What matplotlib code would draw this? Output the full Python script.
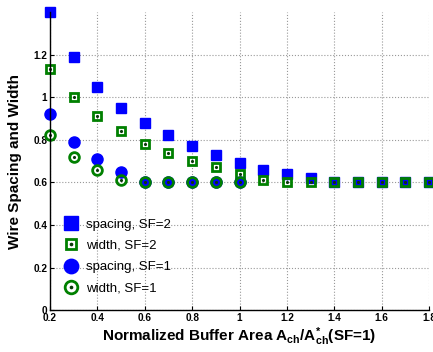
import numpy as np
import matplotlib
matplotlib.use('Agg')
import matplotlib.pyplot as plt

plt.rcParams['font.family'] = 'Liberation Sans'
plt.rcParams['mathtext.fontset'] = 'custom'
plt.rcParams['mathtext.bf'] = 'Liberation Sans:bold'
plt.rcParams['mathtext.rm'] = 'Liberation Sans:bold'
plt.rcParams['mathtext.default'] = 'bf'

# normalized buffer area
area = [0.2, 0.3, 0.4, 0.5, 0.6, 0.7, 0.8, 0.9, 1.0, 1.1, 1.2, 1.3, 1.4, 1.5, 1.6, 1.7, 1.8]
area_sf1 = [0.2, 0.3, 0.4, 0.5, 0.6, 0.7, 0.8, 0.9, 1.0]

spacing_sf2 = [1.40, 1.19, 1.05, 0.95, 0.88, 0.82, 0.77, 0.73, 0.69, 0.66, 0.64, 0.62,
               0.60, 0.60, 0.60, 0.60, 0.60]
width_sf2 = [1.13, 1.00, 0.91, 0.84, 0.78, 0.74, 0.70, 0.67, 0.64, 0.61, 0.60, 0.60,
             0.60, 0.60, 0.60, 0.60, 0.60]
spacing_sf1 = [0.92, 0.79, 0.71, 0.65, 0.60, 0.60, 0.60, 0.60, 0.60]
width_sf1 = [0.82, 0.72, 0.66, 0.61, 0.60, 0.60, 0.60, 0.60, 0.60]

labels = ['spacing, SF=2', 'width, SF=2', 'spacing, SF=1', 'width, SF=1']

blue = '#0000ff'
green = '#008000'
dot = '#0a3a0a'

fig = plt.figure(figsize=(4.33, 3.52), dpi=100)
ax = fig.add_axes([0.1155, 0.119, 0.8755, 0.847])

h1, = ax.plot(area, spacing_sf2, 's', color=blue, ms=7.5, mec=blue, ls='none', clip_on=False)
h2a, = ax.plot(area, width_sf2, 's', mfc='none', mec=green, ms=6, mew=2, ls='none', clip_on=False)
h2b, = ax.plot(area, width_sf2, '.', color=dot, ms=2.5, ls='none', clip_on=False)
h3, = ax.plot(area_sf1, spacing_sf1, 'o', color=blue, ms=8, mec=blue, ls='none', clip_on=False)
h4a, = ax.plot(area_sf1, width_sf1, 'o', mfc='none', mec=green, ms=7, mew=2, ls='none', clip_on=False)
h4b, = ax.plot(area_sf1, width_sf1, '.', color=dot, ms=2.5, ls='none', clip_on=False)

ax.set_xlim(0.2, 1.8)
ax.set_ylim(0, 1.4)
ax.set_xticks(np.arange(0.2, 1.81, 0.2))
ax.set_yticks(np.arange(0, 1.21, 0.2))
ax.set_xticklabels(['0.2', '0.4', '0.6', '0.8', '1', '1.2', '1.4', '1.6', '1.8'])
ax.set_yticklabels(['0', '0.2', '0.4', '0.6', '0.8', '1', '1.2'])
ax.tick_params(direction='in', length=3, width=0.8, labelsize=7.2, pad=2)
for t in ax.get_xticklabels() + ax.get_yticklabels():
    t.set_fontweight('bold')

ax.grid(True, color='0.6', linestyle=':', linewidth=0.8)
ax.set_axisbelow(True)
ax.spines['top'].set_visible(False)
ax.spines['right'].set_visible(False)
ax.spines['left'].set_linewidth(1.0)
ax.spines['bottom'].set_linewidth(1.0)

ax.set_ylabel('Wire Spacing and Width', fontsize=11, fontweight='bold', labelpad=8)
ax.set_xlabel(r'Normalized Buffer Area A$_{ch}$/A$^{*}_{ch}$(SF=1)', fontsize=11,
              fontweight='bold', labelpad=2)

leg = ax.legend([h1, (h2a, h2b), h3, (h4a, h4b)], labels, loc='upper left',
                bbox_to_anchor=(0.02, 0.325), frameon=False, fontsize=9.5,
                handlelength=1.2, handletextpad=0.55, labelspacing=0.68,
                markerscale=1.3, borderaxespad=0)

fig.savefig('out.png', dpi=100)
